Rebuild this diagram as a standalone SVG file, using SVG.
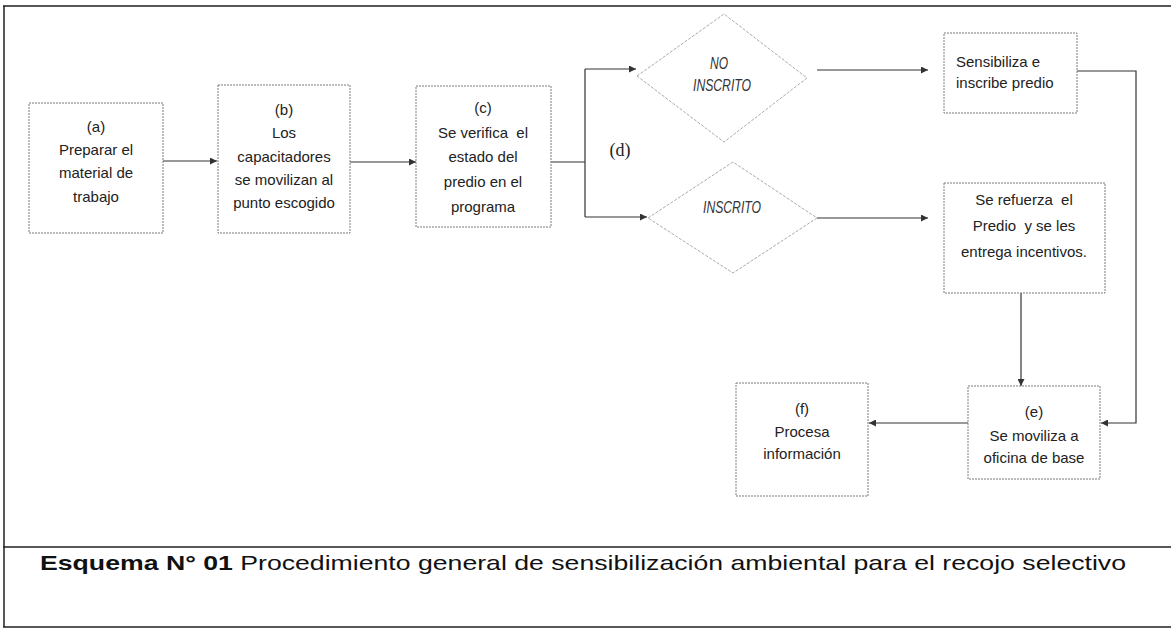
<svg xmlns="http://www.w3.org/2000/svg" width="1171" height="629" viewBox="0 0 1171 629">
<defs>
<marker id="arr" markerWidth="8" markerHeight="7" refX="7" refY="3.5" orient="auto" markerUnits="userSpaceOnUse">
<path d="M0,0 L7,3.5 L0,7 z" fill="#333"/>
</marker>
<style>
.box{fill:#fff;stroke:#7a7a7a;stroke-width:1;stroke-dasharray:2 1}
.dia{fill:#fff;stroke:#aaaaaa;stroke-width:1;stroke-dasharray:3 1.5}
.t{font-family:"Liberation Sans",Arial,sans-serif;font-size:15px;fill:#222;text-anchor:middle}
.tl{font-family:"Liberation Sans",Arial,sans-serif;font-size:15px;fill:#222}
.ti{font-family:"Liberation Sans",Arial,sans-serif;font-size:16px;font-style:italic;fill:#333;text-anchor:middle}
.conn{fill:none;stroke:#333;stroke-width:1.2}
.frame{fill:none;stroke:#222;stroke-width:1.5}
.cap{font-family:"Liberation Sans",Arial,sans-serif;font-size:21px;fill:#111}
</style>
</defs>
<rect width="1171" height="629" fill="#fff"/>
<g id="frame">
<path class="frame" d="M3,6 H1171 M4,6 V627 M3,547 H1171 M3,627 H1171"/>
</g>
<g id="connectors">
<path class="conn" d="M163,161 H217" marker-end="url(#arr)"/>
<path class="conn" d="M350,162 H416" marker-end="url(#arr)"/>
<path class="conn" d="M551,162 H585 M585,69 V217"/>
<path class="conn" d="M585,69 H636" marker-end="url(#arr)"/>
<path class="conn" d="M585,217 H647" marker-end="url(#arr)"/>
<path class="conn" d="M817,70 H928" marker-end="url(#arr)"/>
<path class="conn" d="M817,218 H928" marker-end="url(#arr)"/>
<path class="conn" d="M1077,71 H1136 V423 H1101" marker-end="url(#arr)"/>
<path class="conn" d="M1021,293 V386" marker-end="url(#arr)"/>
<path class="conn" d="M968,423 H869" marker-end="url(#arr)"/>
</g>
<g id="node-a">
<rect class="box" x="29" y="103" width="134" height="130"/>
<text class="t" x="96" y="132">(a)</text>
<text class="t" x="96" y="155">Preparar el</text>
<text class="t" x="96" y="178">material de</text>
<text class="t" x="96" y="202">trabajo</text>
</g>
<g id="node-b">
<rect class="box" x="218" y="85" width="132" height="148"/>
<text class="t" x="284" y="115">(b)</text>
<text class="t" x="284" y="138">Los</text>
<text class="t" x="284" y="162">capacitadores</text>
<text class="t" x="284" y="185">se movilizan al</text>
<text class="t" x="284" y="208">punto escogido</text>
</g>
<g id="node-c">
<rect class="box" x="416" y="86" width="135" height="141"/>
<text class="t" x="483" y="113">(c)</text>
<text class="t" x="483" y="138" xml:space="preserve">Se verifica  el</text>
<text class="t" x="483" y="162">estado del</text>
<text class="t" x="483" y="187">predio en el</text>
<text class="t" x="483" y="212">programa</text>
</g>
<g id="node-no-inscrito">
<polygon class="dia" points="637,76 724,14 807,78 724,142"/>
<text class="ti" x="719" y="69" textLength="18" lengthAdjust="spacingAndGlyphs">NO</text>
<text class="ti" x="722" y="91" textLength="58" lengthAdjust="spacingAndGlyphs">INSCRITO</text>
</g>
<g id="node-inscrito">
<polygon class="dia" points="648,218 733,162 817,218 733,273"/>
<text class="ti" x="732" y="213" textLength="58" lengthAdjust="spacingAndGlyphs">INSCRITO</text>
</g>
<g id="label-d">
<text x="620" y="156" font-family="'Liberation Serif','Times New Roman',serif" font-size="18" fill="#222" text-anchor="middle">(d)</text>
</g>
<g id="node-sensibiliza">
<rect class="box" x="944" y="33" width="133" height="80"/>
<text class="tl" x="956" y="67">Sensibiliza e</text>
<text class="tl" x="956" y="88">inscribe predio</text>
</g>
<g id="node-refuerza">
<rect class="box" x="944" y="183" width="161" height="110"/>
<text class="t" x="1024" y="205" xml:space="preserve">Se refuerza  el</text>
<text class="t" x="1024" y="231" xml:space="preserve">Predio  y se les</text>
<text class="t" x="1024" y="257">entrega incentivos.</text>
</g>
<g id="node-e">
<rect class="box" x="968" y="386" width="132" height="93"/>
<text class="t" x="1034" y="417">(e)</text>
<text class="t" x="1034" y="441">Se moviliza a</text>
<text class="t" x="1034" y="463">oficina de base</text>
</g>
<g id="node-f">
<rect class="box" x="736" y="383" width="132" height="113"/>
<text class="t" x="802" y="414">(f)</text>
<text class="t" x="802" y="437">Procesa</text>
<text class="t" x="802" y="459">información</text>
</g>
<g id="caption">
<text class="cap" x="40" y="570" textLength="1086" lengthAdjust="spacingAndGlyphs"><tspan font-weight="bold">Esquema N° 01</tspan> Procedimiento general de sensibilización ambiental para el recojo selectivo</text>
</g>
</svg>
